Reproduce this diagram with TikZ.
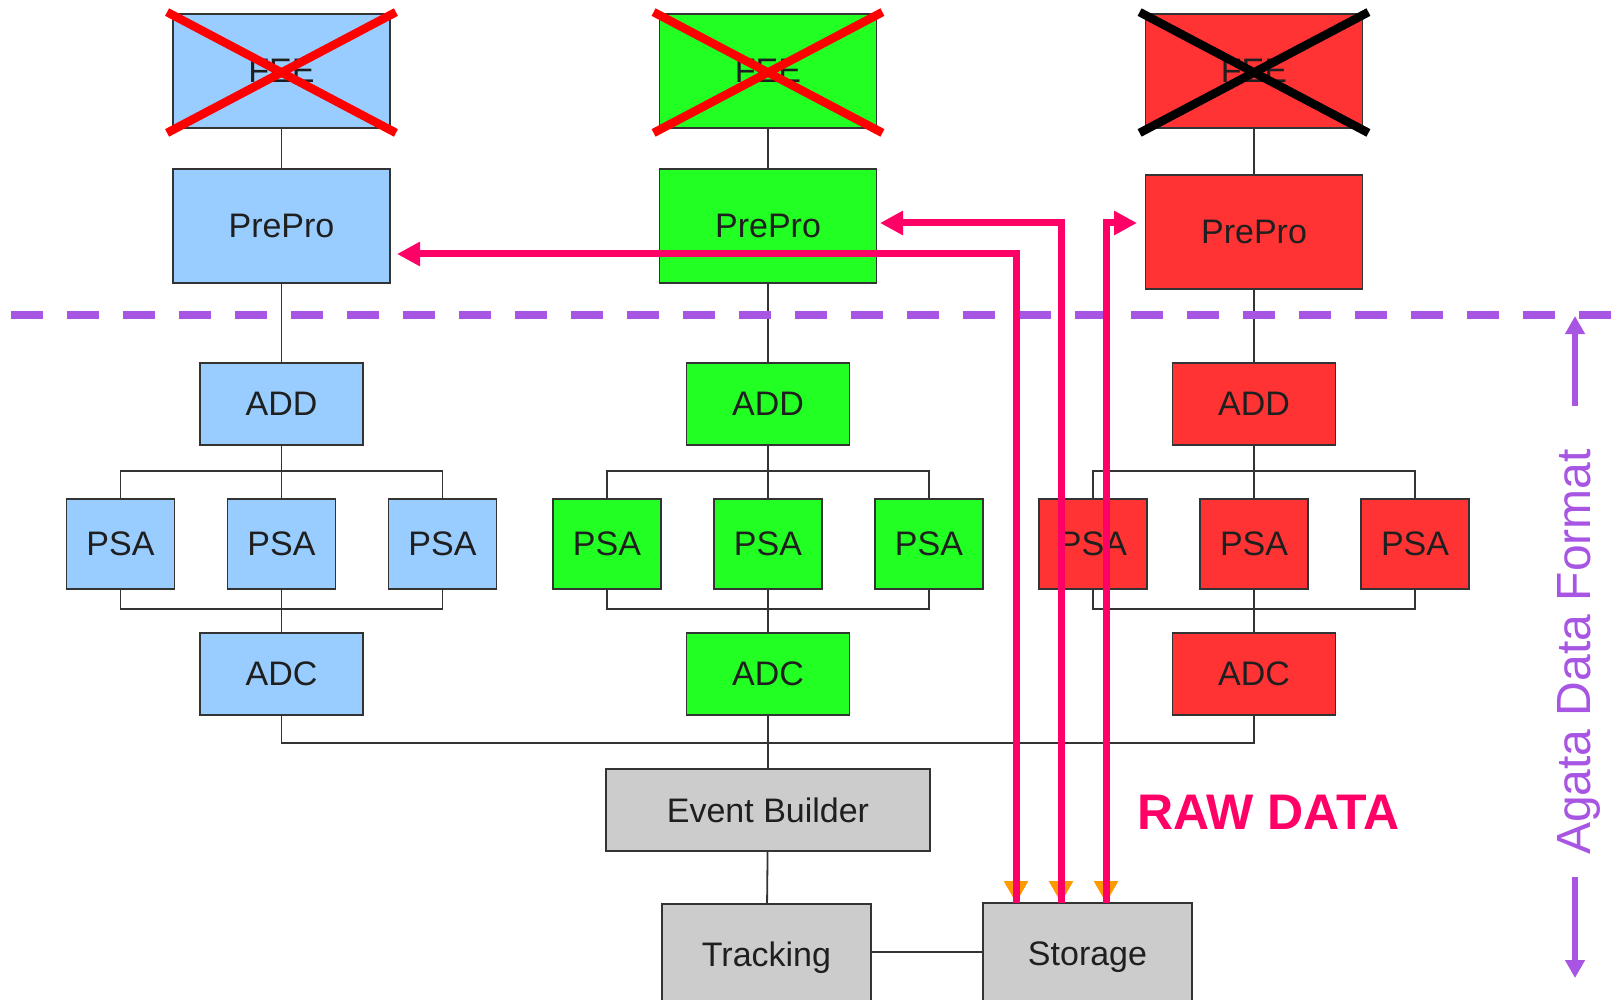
\documentclass[tikz,border=0pt]{standalone}
\usepackage{fontspec}
\setmainfont{Liberation Sans}
\usetikzlibrary{arrows.meta,calc}
\definecolor{bbl}{HTML}{99CCFF}
\definecolor{bgr}{HTML}{22FF22}
\definecolor{brd}{HTML}{FF3333}
\definecolor{bgy}{HTML}{CCCCCC}
\definecolor{edgec}{HTML}{333333}
\definecolor{rawpink}{HTML}{FF0066}
\definecolor{fmtpurple}{HTML}{A855E3}
\definecolor{tipor}{HTML}{FF9900}
\definecolor{crossred}{HTML}{FF0000}
\begin{document}
\begin{tikzpicture}[x=1pt,y=-1pt,
  box/.style={draw=edgec, line width=1.8pt, inner sep=0pt, font=\fontsize{34}{40}\selectfont, text=black!88},
  widebox/.style={box, minimum width=217pt, minimum height=114pt},
  midbox/.style={box, minimum width=163pt, minimum height=82pt},
  smallbox/.style={box, minimum width=108pt, minimum height=90pt},
  conn/.style={draw=edgec, line width=1.8pt},
  xline/.style={line width=8.5pt},
  rawline/.style={draw=rawpink, line width=7pt},
  rawarrow/.style={rawline, {Triangle[color=tipor, length=22pt, width=23pt]}-{Triangle[length=23pt, width=23pt]}},
  fmtarrow/.style={draw=fmtpurple, line width=6pt, -{Triangle[length=18pt, width=19pt]}}
]
\useasboundingbox (0,0) rectangle (1613,1000);
\fill[white] (0,0) rectangle (1613,1000);

% columns
\foreach \c/\cx/\col/\py/\xc in {B/281.5/bbl/226/crossred, G/768/bgr/226/crossred, R/1254/brd/232/black} {
  \node[widebox, fill=\col] (fee\c) at (\cx,71) {FEE};
  \node[widebox, fill=\col] (pp\c) at (\cx,\py) {PrePro};
  \node[midbox, fill=\col] (add\c) at (\cx,404) {ADD};
  \node[smallbox, fill=\col] (psa\c1) at (\cx-161,544) {PSA};
  \node[smallbox, fill=\col] (psa\c2) at (\cx,544) {PSA};
  \node[smallbox, fill=\col] (psa\c3) at (\cx+161,544) {PSA};
  \node[midbox, fill=\col] (adc\c) at (\cx,674) {ADC};
  \draw[conn] (fee\c) -- (pp\c);
  \draw[conn] (pp\c) -- (add\c);
  \draw[conn] (add\c) -- (psa\c2);
  \draw[conn] (psa\c1.north) -- ++(0,-27) -| (psa\c3.north);
  \draw[conn] (psa\c1.south) -- ++(0,19) -| (psa\c3.south);
  \draw[conn] (psa\c2) -- (adc\c);
  \draw[xline, draw=\xc] ($(fee\c.north west)+(-5,-1)$) -- ($(fee\c.south east)+(5,4)$);
  \draw[xline, draw=\xc] ($(fee\c.north east)+(5,-1)$) -- ($(fee\c.south west)+(-5,4)$);
}

% lower part
\node[box, fill=bgy, minimum width=324pt, minimum height=82pt] (eb) at (768,810) {Event Builder};
\node[box, fill=bgy, minimum width=209pt, minimum height=108pt] (tr) at (766.5,958) {Tracking};
\node[box, fill=bgy, minimum width=209pt, minimum height=108pt] (st) at (1087.5,957) {Storage};

\draw[conn] (adcB.south) -- ++(0,27) -| (adcR.south);
\draw[conn] (adcG) -- (eb);
\draw[conn] (eb) -- (tr);
\coordinate (tre) at (871,952);
\draw[conn] (tre) -- (st.west |- tre);

% boundary of the data format
\coordinate (dl) at (11,315);
\coordinate (dr) at (1613,315);
\draw[fmtpurple, line width=8pt, dash pattern=on 32pt off 24pt] (dl) -- (dr);

% raw data paths
\coordinate (s1) at (1016,903);
\coordinate (s2) at (1061,903);
\coordinate (s3) at (1106,903);
\coordinate (tB) at (397,254);
\coordinate (tG) at (880,223);
\coordinate (tR) at (1137,223);
\draw[rawarrow] (s1) |- (tB);
\draw[rawarrow] (s2) |- (tG);
\draw[rawarrow] (s3) |- (tR);
\draw[rawline] (s1) -- ++(0,-30);
\draw[rawline] (s2) -- ++(0,-30);
\draw[rawline] (s3) -- ++(0,-30);

\node[anchor=base west, inner sep=0pt, text=rawpink, font=\fontsize{50}{56}\selectfont\bfseries] (raw) at (1137,829) {RAW DATA};

% Agata data format label
\node[rotate=90, anchor=base, inner sep=0pt, text=fmtpurple, font=\fontsize{48}{54}\selectfont] (adf) at (1590,652) {Agata Data Format};
\coordinate (fa1) at (1575,406);
\coordinate (fa2) at (1575,316);
\coordinate (fb1) at (1575,877);
\coordinate (fb2) at (1575,978);
\draw[fmtarrow] (fa1) -- (fa2);
\draw[fmtarrow] (fb1) -- (fb2);
\end{tikzpicture}
\end{document}
